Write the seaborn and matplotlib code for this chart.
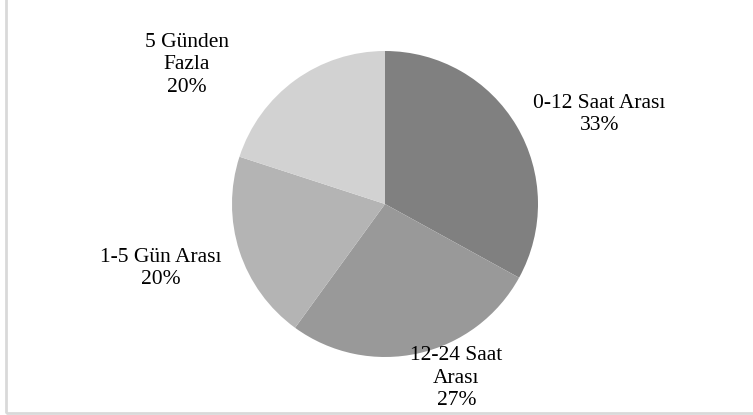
import matplotlib
matplotlib.use("Agg")
import matplotlib.pyplot as plt
import seaborn as sns
from matplotlib.patches import Rectangle

# data
categories = ["0-12 Saat Arası", "12-24 Saat Arası", "1-5 Gün Arası", "5 Günden Fazla"]
shares = [33, 27, 20, 20]
label_texts = ["0-12 Saat Arası", "12-24 Saat\nArası", "1-5 Gün Arası", "5 Günden\nFazla"]

# styling
colors = ["#808080", "#999999", "#b4b4b4", "#d2d2d2"]
# label centres in data units (pie radius = 1)
label_pos = [(1.4, 0.585), (0.467, -1.14), (-1.464, -0.42), (-1.294, 0.91)]

sns.set_theme(style="white")
plt.rcParams['font.family'] = ['Liberation Serif', 'DejaVu Serif']

W, H = 753, 415
fig = plt.figure(figsize=(W / 100, H / 100), dpi=100)
cx, cy, r = 385, 204, 153
ax = fig.add_axes([(cx - r) / W, (H - cy - r) / H, 2 * r / W, 2 * r / H])

ax.pie(shares, colors=colors, startangle=90, counterclock=False, radius=1,
       wedgeprops=dict(linewidth=0))
ax.set_xlim(-1, 1)
ax.set_ylim(-1, 1)
ax.set_aspect("equal")
ax.axis("off")

for txt, val, (x, y) in zip(label_texts, shares, label_pos):
    ax.text(x, y, f"{txt}\n{val}%", ha="center", va="center", fontsize=15.5,
            color="#000000", linespacing=1.25, clip_on=False)

# chart border (left and bottom visible)
fig.patches.append(Rectangle((6 / W, 2 / H), 1, 1, transform=fig.transFigure,
                             fill=False, edgecolor="#d9d9d9", linewidth=2))

fig.savefig("out.png", dpi=100)
